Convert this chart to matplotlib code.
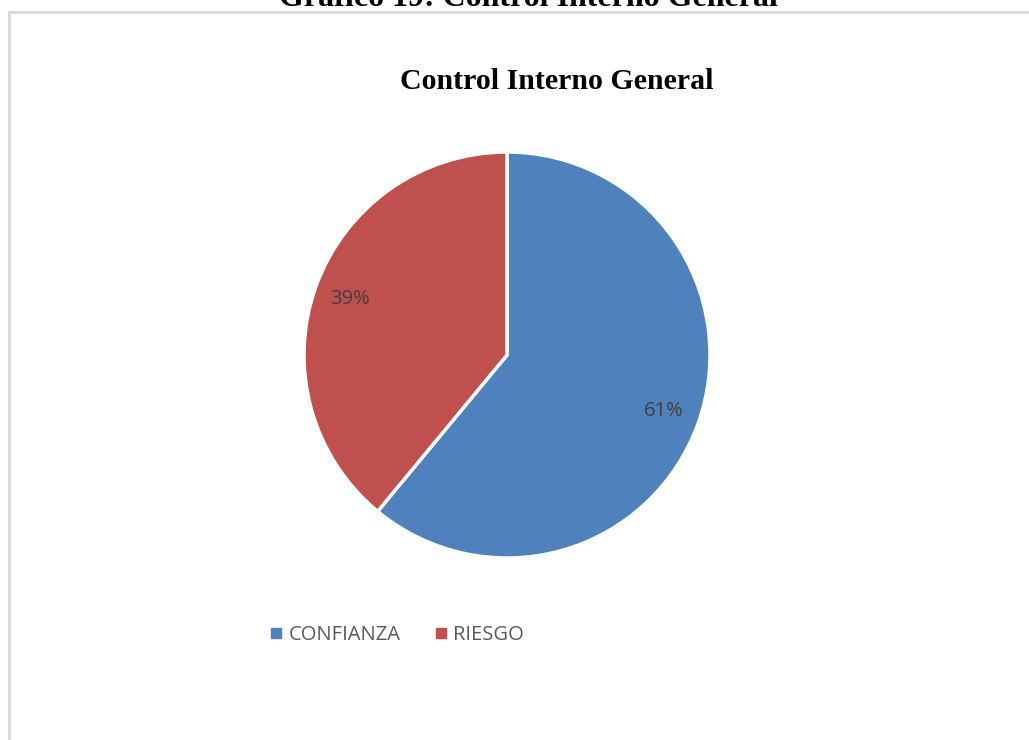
import matplotlib
matplotlib.use("Agg")
import matplotlib.pyplot as plt
from matplotlib.patches import Rectangle
from matplotlib.lines import Line2D

# data
categorias = ["CONFIANZA", "RIESGO"]
porcentajes = [61, 39]
colores = ["#4F81BD", "#C0504D"]

W, H = 1029, 740
fig = plt.figure(figsize=(W / 100, H / 100), dpi=100, facecolor="white")

# marco gris del grafico
fig.patches.append(Rectangle((9 / W, -0.05), 1.1, 1 - 12 / H + 0.05,
                             transform=fig.transFigure, fill=False,
                             ec="#d9d9d9", lw=2, zorder=0))

# titulo del documento (cortado arriba, como en la pagina)
fig.text(528 / W, 1 - 6 / H, "Gráfico 19: Control Interno General",
         ha="center", va="baseline", fontsize=23, weight="bold",
         family="Liberation Serif", color="black")

# titulo del grafico
fig.text(557 / W, 1 - 89 / H, "Control Interno General",
         ha="center", va="baseline", fontsize=21.5, weight="bold",
         family="Liberation Serif", color="black")

# pie
cx, cy, r = 507, 355, 203
ax = fig.add_axes([(cx - r) / W, (H - cy - r) / H, 2 * r / W, 2 * r / H])
wedges, texts, autotexts = ax.pie(
    porcentajes, colors=colores, startangle=90, counterclock=False,
    autopct="%d%%", pctdistance=0.82,
    wedgeprops={"edgecolor": "white", "linewidth": 2.5},
    textprops={"fontsize": 14.5, "color": "#404040", "family": "Open Sans"},
)
ax.set_xlim(-1.0, 1.0)
ax.set_ylim(-1.0, 1.0)
ax.axis("off")
for w in wedges:
    w.set_clip_on(False)

# leyenda
handles = [Line2D([], [], marker="s", ls="", color=c, markersize=7) for c in colores]
fig.legend(handles, categorias, loc="center", bbox_to_anchor=(396 / W, 1 - 635 / H),
           ncol=2, frameon=False, handletextpad=0.2, columnspacing=1.6,
           handlelength=0.8, prop={"family": "Open Sans", "size": 14.5},
           labelcolor="#595959")

fig.savefig("out.png", dpi=100)
